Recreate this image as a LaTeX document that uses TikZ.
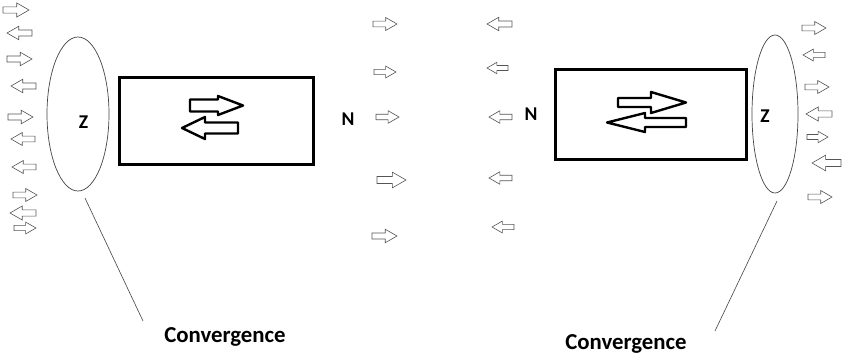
\documentclass[tikz,border=0pt]{standalone}
\usepackage{fontspec}
\setmainfont{Carlito}
\usepackage{xcolor}
\definecolor{bg}{HTML}{FFFFFF}
\definecolor{ink}{HTML}{000000}
\definecolor{ring}{HTML}{444444}
\definecolor{arrgray}{HTML}{555555}
\tikzset{
  magbox/.style={draw=ink, line width=3pt},
  fieldring/.style={draw=ring, line width=0.7pt},
  smallarr/.style={draw=arrgray, line width=0.6pt, line join=miter},
  bigarr/.style={draw=ink, line width=2.4pt, line join=round},
  pointer/.style={draw=ring, line width=0.6pt},
  lab/.style={text=ink, font=\bfseries\fontsize{19.5}{22}\selectfont, inner sep=0pt},
  biglab/.style={text=ink, font=\bfseries\fontsize{22.8}{26}\selectfont, inner sep=0pt}
}
% block arrow: tail x, head base x, tip x, y, shaft half, head half
\newcommand{\blockarrow}[7][]{%
  \draw[#1] (#2,#5-#6) -- (#3,#5-#6) -- (#3,#5-#7) -- (#4,#5)
    -- (#3,#5+#7) -- (#3,#5+#6) -- (#2,#5+#6) -- cycle;}

\begin{document}
\begin{tikzpicture}[x=1pt, y=-1pt]
  \useasboundingbox[fill=bg] (0,0) rectangle (843,356);

  % small field arrows: centre x / y / direction / length
  \foreach \x/\y/\d/\l in {16/10/1/26, 19.5/33/-1/25, 19.5/59/1/25, 23.5/86/-1/25,
      20.5/117/1/25, 23/139/-1/24, 24/167/-1/24, 25/195/1/24, 23/213/-1/26, 25/228/1/22,
      385/24/1/24, 385/72/1/22, 387.5/117/1/23, 391.5/180/1/29, 384.5/236/1/25,
      499.5/24/-1/25, 497.5/68/-1/21, 500.5/117/-1/23, 500.5/178/-1/23, 503/227/-1/22,
      814/28/1/24, 814/55/-1/22, 817/87/1/24, 819/114/-1/26, 817.5/137/1/21,
      826.5/163/-1/29, 820/197/1/24}
  {
    \begin{scope}[shift={(\x,\y)}, xscale=\d*\l, yscale=\l]
      \draw[smallarr] (-0.5,-0.12) -- (0.03,-0.12) -- (0.03,-0.27) -- (0.5,0)
        -- (0.03,0.27) -- (0.03,0.12) -- (-0.5,0.12) -- cycle;
    \end{scope}
  }

  % left magnet
  \draw[fieldring] (78,114) ellipse (31 and 77);
  \node[lab] (zL) at (83.5,122.5) {Z};
  \draw[magbox] (119,77) rectangle (313,164);
  \blockarrow[bigarr]{190}{218}{243}{105.5}{6}{9.5}
  \blockarrow[bigarr]{238}{205}{182}{128}{5.5}{11}
  \node[lab] (nL) at (348,119) {N};

  % right magnet
  \node[lab] (nR) at (531,114) {N};
  \draw[magbox] (555,69) rectangle (746,159);
  \blockarrow[bigarr]{618}{651}{686}{102.5}{4.5}{10.5}
  \blockarrow[bigarr]{686}{645}{607}{122.5}{4.5}{9.5}
  \draw[fieldring] (775,114) ellipse (23 and 79);
  \node[lab] (zR) at (765,116) {Z};

  % labels
  \node[biglab] (convL) at (225,337) {Convergence};
  \node[biglab] (convR) at (626,344) {Convergence};
  \coordinate (pL1) at (85,198);
  \coordinate (pL2) at (143,321);
  \coordinate (pR1) at (777,201);
  \coordinate (pR2) at (715,331);
  \draw[pointer] (pL1) -- (pL2);
  \draw[pointer] (pR1) -- (pR2);
\end{tikzpicture}
\end{document}
